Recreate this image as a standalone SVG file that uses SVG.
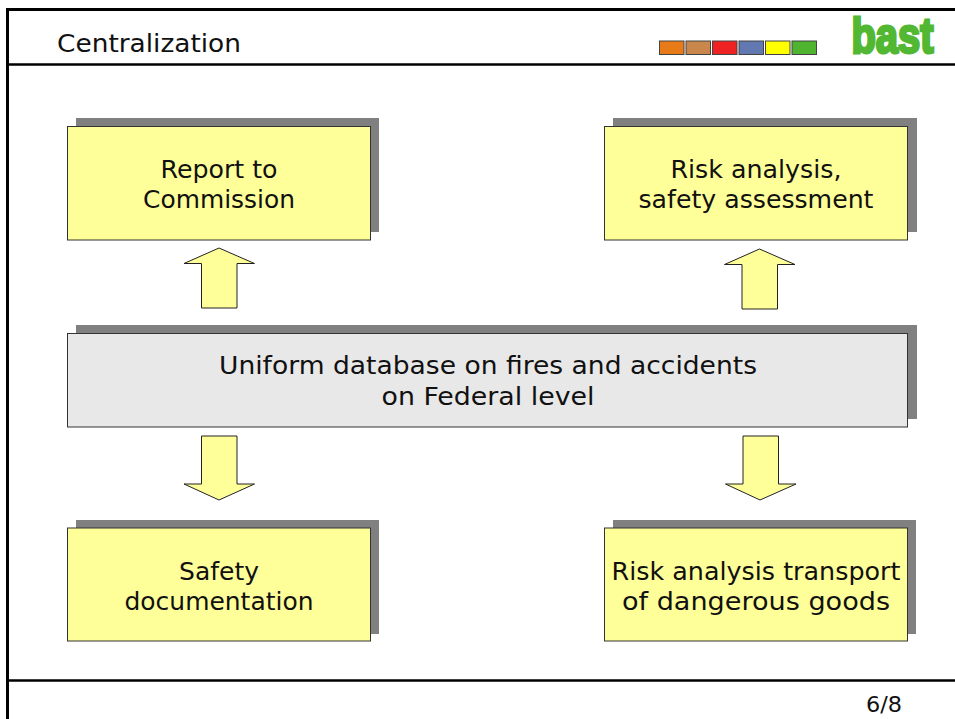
<svg xmlns="http://www.w3.org/2000/svg" width="955" height="719" viewBox="0 0 955 719">
<defs><style>
text{font-family:"DejaVu Sans","Liberation Sans",sans-serif;fill:#111;text-anchor:middle}
.l{font-size:25px}
.sh{fill:#808080}
.y{fill:#ffff99;stroke:#333;stroke-width:1}
.g{fill:#e8e8e8;stroke:#333;stroke-width:1}
.a{fill:#ffff99;stroke:#222;stroke-width:1}
.sw{stroke:#444;stroke-width:1}
</style></defs>
<rect width="955" height="719" fill="#fff"/>
<g id="frame" fill="none" stroke="#000">
<path d="M7.500 719V9.500H955" stroke-width="3"/>
<path d="M8 64.500H955" stroke-width="2.500"/>
<path d="M8 680.500H955" stroke-width="2.500"/>
</g>
<g id="header">
<text x="149" y="52" font-size="25" textLength="184" lengthAdjust="spacingAndGlyphs">Centralization</text>
<rect class="sw" x="659.500" y="41" width="24.500" height="13.500" fill="#e87a18"/>
<rect class="sw" x="686" y="41" width="24.500" height="13.500" fill="#c9874b"/>
<rect class="sw" x="712.500" y="41" width="24.500" height="13.500" fill="#ee2222"/>
<rect class="sw" x="739" y="41" width="24.500" height="13.500" fill="#6278b0"/>
<rect class="sw" x="765.500" y="41" width="24.500" height="13.500" fill="#ffff00"/>
<rect class="sw" x="792" y="41" width="24.500" height="13.500" fill="#4fb531"/>
<text x="892.500" y="52.500" font-size="50" font-weight="bold" style="font-family:'Liberation Sans',sans-serif;fill:#52b733;stroke:#52b733;stroke-width:3" textLength="82" lengthAdjust="spacingAndGlyphs">bast</text>
</g>
<g id="connectors">
<path class="a" d="M219 248L254.500 263.500H237V308H201.500V263.500H184Z"/>
<path class="a" d="M759.500 249L795 264.500H777.500V309H742V264.500H724.500Z"/>
<path class="a" d="M219 500L254.500 484H237V436H201.500V484H184Z"/>
<path class="a" d="M760 500L796 484H778.500V436H743V484H725.500Z"/>
</g>
<g id="report">
<rect class="sh" x="76" y="118" width="303" height="114"/>
<rect class="y" x="67.500" y="126.500" width="303" height="113.500"/>
<text class="l" x="219" y="178" textLength="117" lengthAdjust="spacingAndGlyphs">Report to</text>
<text class="l" x="219" y="208" textLength="152" lengthAdjust="spacingAndGlyphs">Commission</text>
</g>
<g id="risk">
<rect class="sh" x="613" y="118" width="304" height="114"/>
<rect class="y" x="604.500" y="126.500" width="303" height="113.500"/>
<text class="l" x="756" y="178" textLength="171" lengthAdjust="spacingAndGlyphs">Risk analysis,</text>
<text class="l" x="756" y="208" textLength="235" lengthAdjust="spacingAndGlyphs">safety assessment</text>
</g>
<g id="database">
<rect class="sh" x="76" y="325" width="841" height="94"/>
<rect class="g" x="67.500" y="333.500" width="840" height="93.500"/>
<text class="l" x="488" y="374" textLength="538" lengthAdjust="spacingAndGlyphs">Uniform database on fires and accidents</text>
<text class="l" x="488" y="405" textLength="213" lengthAdjust="spacingAndGlyphs">on Federal level</text>
</g>
<g id="safety">
<rect class="sh" x="76" y="520" width="303" height="114"/>
<rect class="y" x="67.500" y="528" width="303" height="113"/>
<text class="l" x="219" y="580" textLength="80" lengthAdjust="spacingAndGlyphs">Safety</text>
<text class="l" x="219" y="610" textLength="189" lengthAdjust="spacingAndGlyphs">documentation</text>
</g>
<g id="transport">
<rect class="sh" x="613" y="520" width="303" height="114"/>
<rect class="y" x="604.500" y="528" width="303" height="113"/>
<text class="l" x="756" y="580" textLength="289" lengthAdjust="spacingAndGlyphs">Risk analysis transport</text>
<text class="l" x="756" y="610" textLength="268" lengthAdjust="spacingAndGlyphs">of dangerous goods</text>
</g>
<g id="page"><text x="884" y="712" font-size="21" textLength="36" lengthAdjust="spacingAndGlyphs">6/8</text></g>
</svg>
